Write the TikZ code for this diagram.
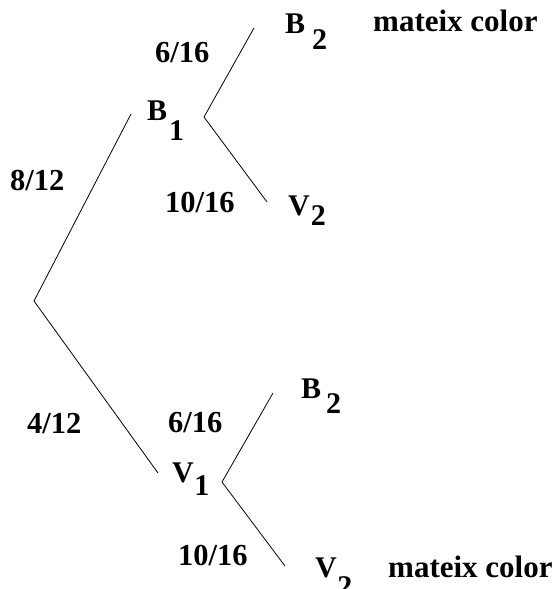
\documentclass[tikz,border=0pt]{standalone}
\usepackage{fontspec}
\setmainfont{Liberation Serif}
\tikzset{
  lbl/.style={inner sep=0pt, anchor=base west, font=\bfseries\fontsize{30}{30}\selectfont},
  frac/.style={inner sep=0pt, anchor=base west, font=\bfseries\fontsize{30.5}{30.5}\selectfont},
  note/.style={inner sep=0pt, anchor=base west, font=\bfseries\fontsize{31}{31}\selectfont},
  branch/.style={draw=black, line width=0.8pt}
}
\begin{document}
\begin{tikzpicture}[x=1pt,y=-1pt]
\useasboundingbox (0,0) rectangle (555,589);
% branch points
\coordinate (root) at (34,301);
\coordinate (b1end) at (131,114);
\coordinate (v1end) at (158,473);
\coordinate (b1fork) at (204,117);
\coordinate (b2top) at (254,28);
\coordinate (v2top) at (267,202);
\coordinate (v1fork) at (222,482);
\coordinate (b2bot) at (273,393);
\coordinate (v2bot) at (285,566);
% connectors
\draw[branch] (root) -- (b1end);
\draw[branch] (root) -- (v1end);
\draw[branch] (b2top) -- (b1fork) -- (v2top);
\draw[branch] (b2bot) -- (v1fork) -- (v2bot);
% outcome labels
\node[lbl] (B1) at (147,120) {B\hspace{2pt}\raisebox{-20pt}{1}};
\node[lbl] (B2a) at (285,34) {B\hspace{7pt}\raisebox{-16pt}{2}};
\node[lbl] (V2a) at (288,215) {V\hspace{1pt}\raisebox{-10pt}{2}};
\node[lbl] (V1) at (172,482) {V\hspace{0.5pt}\raisebox{-13pt}{1}};
\node[lbl] (B2b) at (301,398) {B\hspace{5pt}\raisebox{-15pt}{2}};
\node[lbl] (V2b) at (315,577) {V\hspace{0.5pt}\raisebox{-19pt}{2}};
% probabilities
\node[frac] (p612a) at (155,62) {6/16};
\node[frac] (p812) at (10,190) {8/12};
\node[frac] (p1016a) at (165,212) {10/16};
\node[frac] (p412) at (27,433) {4/12};
\node[frac] (p616b) at (168,432) {6/16};
\node[frac] (p1016b) at (178,565) {10/16};
% notes
\node[note] (n1) at (373,31) {mateix color};
\node[note] (n2) at (388,577) {mateix color};
\end{tikzpicture}
\end{document}
